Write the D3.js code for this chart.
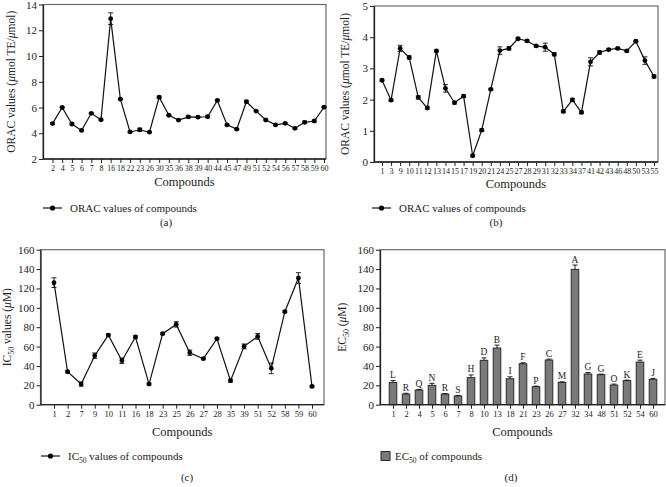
<!DOCTYPE html>
<html><head><meta charset="utf-8">
<script src="https://cdn.jsdelivr.net/npm/d3@7"></script>
<style>
body{margin:0;background:#fff;}
svg{display:block;font-family:"Liberation Serif","DejaVu Serif",serif;}
</style></head><body>
<svg id="c" width="666" height="487"></svg>
<script>
// ---- data ----
const catsA = ["2","4","5","6","7","8","16","18","22","23","26","30","35","36","38","39","40","44","45","47","49","51","52","54","56","57","58","59","60"];
const valsA = [4.75,6.0,4.72,4.22,5.55,5.05,12.9,6.65,4.1,4.27,4.08,6.8,5.4,5.02,5.27,5.25,5.28,6.55,4.65,4.32,6.45,5.72,5.03,4.65,4.77,4.38,4.85,4.95,6.02];
const errA  = [0.05,0.05,0.08,0.05,0.05,0.05,0.45,0.05,0.05,0.12,0.05,0.08,0.05,0.05,0.08,0.05,0.08,0.06,0.05,0.05,0.1,0.05,0.05,0.05,0.05,0.05,0.1,0.08,0.05];
const ticksA = [2,4,6,8,10,12,14];

const catsB = ["1","3","9","10","11","12","13","14","15","17","19","20","21","24","25","27","28","29","31","32","33","34","37","41","42","43","46","48","50","53","55"];
const valsB = [2.62,1.98,3.64,3.35,2.07,1.73,3.56,2.36,1.9,2.11,0.2,1.02,2.33,3.57,3.64,3.95,3.88,3.72,3.68,3.45,1.62,1.99,1.59,3.21,3.51,3.6,3.64,3.56,3.87,3.25,2.74];
const errB  = [0.03,0.03,0.1,0.05,0.05,0.04,0.03,0.12,0.04,0.04,0.03,0.04,0.03,0.12,0.05,0.03,0.03,0.03,0.13,0.05,0.04,0.05,0.04,0.13,0.05,0.03,0.03,0.03,0.03,0.12,0.05];
const ticksB = [0,1,2,3,4,5];

const catsC = ["1","2","7","9","10","11","16","18","23","25","26","27","28","35","39","51","52","58","59","60"];
const valsC = [126,34,21.3,50.6,71.9,45.4,69.9,21.3,73.3,82.9,53.7,47.5,68.1,24.8,60.2,70.5,37.5,96,130.8,18.9];
const errC  = [5,1,2.2,2.8,1,2.8,1.2,1,1,2.8,2.8,1,1.2,1.5,2.5,3,5.5,1,5.5,1];
const ticksC = [0,20,40,60,80,100,120,140,160];

const catsD = ["1","2","4","5","6","7","8","10","13","18","21","23","26","27","32","34","48","51","52","54","60"];
const valsD = [23,11,15.1,20,11,9,27.9,45.8,58.5,26.8,42.3,18.6,46.1,23,139.7,31.7,31,20.3,24.8,44,26.2];
const errD  = [2,0.8,0.6,2,0.5,0.6,2.8,2.5,3,2,1,0.6,1,0.6,4.5,1.5,0.6,1,0.6,2,1];
const lettersD = ["L","R","Q","N","R","S","H","D","B","I","F","P","C","M","A","G","G","O","K","E","J"];
const ticksD = [0,20,40,60,80,100,120,140,160];

const svg = d3.select("#c");
const mu = "\u03BC";

function frame(g, L, R, T, B) {
  g.append("rect").attr("x", L).attr("y", T).attr("width", R - L).attr("height", B - T)
    .attr("fill", "none").attr("stroke", "#6a6a6a").attr("stroke-width", 1.2);
}

function yAxis(L, y, ticks, fs) {
  const ax = svg.append("g").attr("transform", `translate(${L},0)`)
    .call(d3.axisLeft(y).tickValues(ticks).tickFormat(d3.format("d")).tickSize(4).tickPadding(2).tickSizeOuter(0));
  ax.select(".domain").attr("stroke", "#222").attr("stroke-width", 1.3);
  ax.selectAll(".tick line").attr("stroke", "#222").attr("stroke-width", 1);
  ax.selectAll("text").attr("font-family", "Liberation Serif").attr("font-size", fs).attr("fill", "#222");
  return ax;
}
function xAxis(B, x, fs) {
  const ax = svg.append("g").attr("transform", `translate(0,${B})`)
    .call(d3.axisBottom(x).tickSize(4).tickPadding(2).tickSizeOuter(0));
  ax.select(".domain").remove();
  ax.selectAll(".tick line").attr("stroke", "#222").attr("stroke-width", 1);
  ax.selectAll("text").attr("font-family", "Liberation Serif").attr("font-size", fs).attr("fill", "#222");
  return ax;
}
function hline(L, R, B) {
  svg.append("line").attr("x1", L).attr("x2", R).attr("y1", B).attr("y2", B)
    .attr("stroke", "#222").attr("stroke-width", 1.3);
}

function linePanel(o) {
  const g = svg.append("g");
  frame(g, o.L, o.R, o.T, o.B);
  const x = d3.scalePoint().domain(o.cats).range([o.x0, o.x1]);
  const y = d3.scaleLinear().domain([o.ticks[0], o.ticks[o.ticks.length - 1]]).range([o.B, o.T]);
  yAxis(o.L, y, o.ticks, o.yfs);
  hline(o.L, o.R, o.B);
  xAxis(o.B, x, o.xfs);
  const data = o.cats.map((c, i) => ({c, v: o.vals[i], e: o.err[i]}));
  const eb = svg.append("g").attr("stroke", "#111").attr("stroke-width", 0.9);
  data.forEach(d => {
    const xx = x(d.c);
    eb.append("line").attr("x1", xx).attr("x2", xx).attr("y1", y(d.v - d.e)).attr("y2", y(d.v + d.e));
    eb.append("line").attr("x1", xx - 2.5).attr("x2", xx + 2.5).attr("y1", y(d.v + d.e)).attr("y2", y(d.v + d.e));
    eb.append("line").attr("x1", xx - 2.5).attr("x2", xx + 2.5).attr("y1", y(d.v - d.e)).attr("y2", y(d.v - d.e));
  });
  svg.append("path").datum(data)
    .attr("d", d3.line().x(d => x(d.c)).y(d => y(d.v)))
    .attr("fill", "none").attr("stroke", "#111").attr("stroke-width", 1.2);
  svg.append("g").selectAll("circle").data(data).join("circle")
    .attr("cx", d => x(d.c)).attr("cy", d => y(d.v)).attr("r", 2.4).attr("fill", "#000");
  svg.append("text").attr("x", (o.L + o.R) / 2).attr("y", o.xtY).attr("text-anchor", "middle")
    .attr("font-size", 12.5).attr("fill", "#222").text("Compounds");
  const yt = svg.append("text").attr("transform", `translate(${o.ytX},${(o.T + o.B) / 2}) rotate(-90)`)
    .attr("text-anchor", "middle").attr("font-size", 11.5).attr("fill", "#222");
  o.ytitle(yt);
  svg.append("line").attr("x1", o.lgX).attr("x2", o.lgX + 19).attr("y1", o.lgY).attr("y2", o.lgY)
    .attr("stroke", "#111").attr("stroke-width", 1.2);
  svg.append("circle").attr("cx", o.lgX + 9.5).attr("cy", o.lgY).attr("r", 2.6).attr("fill", "#000");
  const lt = svg.append("text").attr("x", o.lgX + 27).attr("y", o.lgY + 3.5).attr("font-size", 11).attr("fill", "#222");
  o.legend(lt);
  svg.append("text").attr("x", o.pX).attr("y", o.pY).attr("text-anchor", "middle")
    .attr("font-size", 11).attr("fill", "#222").text(o.plabel);
}

function oracTitle(t) {
  t.append("tspan").text("ORAC values (");
  t.append("tspan").attr("font-style", "italic").text(mu);
  t.append("tspan").text("mol TE/");
  t.append("tspan").attr("font-style", "italic").text(mu);
  t.append("tspan").text("mol)");
}

linePanel({L: 43, R: 326, T: 4.5, B: 159, x0: 52.5, x1: 324, cats: catsA, vals: valsA, err: errA, ticks: ticksA,
  yfs: 11, xfs: 8, xtY: 186, ytX: 15, ytitle: oracTitle,
  lgX: 43, lgY: 208, legend: t => t.text("ORAC values of compounds"), pX: 166, pY: 226, plabel: "(a)"});

linePanel({L: 374, R: 658, T: 6, B: 162, x0: 382, x1: 654, cats: catsB, vals: valsB, err: errB, ticks: ticksB,
  yfs: 11, xfs: 8, xtY: 188, ytX: 349, ytitle: oracTitle,
  lgX: 372, lgY: 208, legend: t => t.text("ORAC values of compounds"), pX: 496, pY: 226, plabel: "(b)"});

linePanel({L: 40.5, R: 324, T: 249.7, B: 404.7, x0: 54, x1: 312, cats: catsC, vals: valsC, err: errC, ticks: ticksC,
  yfs: 11, xfs: 8.5, xtY: 436, ytX: 11, ytitle: t => {
    t.append("tspan").text("IC");
    t.append("tspan").attr("font-size", 8).attr("dy", 3).text("50");
    t.append("tspan").attr("dy", -3).text(" values (");
    t.append("tspan").attr("font-style", "italic").text(mu);
    t.append("tspan").text("M)");
  },
  lgX: 41, lgY: 456, legend: t => {
    t.append("tspan").text("IC");
    t.append("tspan").attr("font-size", 7.5).attr("dy", 3).text("50");
    t.append("tspan").attr("dy", -3).text(" values of compounds");
  }, pX: 187, pY: 481, plabel: "(c)"});

// ---- panel d (bars) ----
(function () {
  const L = 380, R = 665, T = 249.7, B = 404.7;
  const g = svg.append("g");
  frame(g, L, R, T, B);
  const x = d3.scaleBand().domain(catsD).range([386.5, 659.5]).paddingInner(0.42).paddingOuter(0.21);
  const y = d3.scaleLinear().domain([0, 160]).range([B, T]);
  yAxis(L, y, ticksD, 11);
  const data = catsD.map((c, i) => ({c, v: valsD[i], e: errD[i], l: lettersD[i]}));
  svg.append("g").selectAll("rect").data(data).join("rect")
    .attr("x", d => x(d.c)).attr("width", x.bandwidth())
    .attr("y", d => y(d.v)).attr("height", d => B - y(d.v))
    .attr("fill", "#7a7a7a").attr("stroke", "#2a2a2a").attr("stroke-width", 1);
  const eb = svg.append("g").attr("stroke", "#111").attr("stroke-width", 0.9);
  data.forEach(d => {
    const xx = x(d.c) + x.bandwidth() / 2;
    eb.append("line").attr("x1", xx).attr("x2", xx).attr("y1", y(d.v)).attr("y2", y(d.v + d.e));
    eb.append("line").attr("x1", xx - 2.5).attr("x2", xx + 2.5).attr("y1", y(d.v + d.e)).attr("y2", y(d.v + d.e));
  });
  svg.append("g").selectAll("text").data(data).join("text")
    .attr("x", d => x(d.c) + x.bandwidth() / 2).attr("y", d => y(d.v + d.e) - 2.5)
    .attr("text-anchor", "middle").attr("font-size", 9.5).attr("fill", "#222").text(d => d.l);
  hline(L, R, B);
  const xp = d3.scalePoint().domain(catsD).range([x(catsD[0]) + x.bandwidth() / 2, x(catsD[catsD.length - 1]) + x.bandwidth() / 2]);
  xAxis(B, xp, 8.5);
  svg.append("text").attr("x", (L + R) / 2).attr("y", 436).attr("text-anchor", "middle")
    .attr("font-size", 12.5).attr("fill", "#222").text("Compounds");
  const yt = svg.append("text").attr("transform", `translate(${346},${(T + B) / 2}) rotate(-90)`)
    .attr("text-anchor", "middle").attr("font-size", 11.5).attr("fill", "#222");
  yt.append("tspan").text("EC");
  yt.append("tspan").attr("font-size", 8).attr("dy", 3).text("50");
  yt.append("tspan").attr("dy", -3).text(" (");
  yt.append("tspan").attr("font-style", "italic").text(mu);
  yt.append("tspan").text("M)");
  svg.append("rect").attr("x", 381).attr("y", 451.5).attr("width", 9).attr("height", 9)
    .attr("fill", "#7a7a7a").attr("stroke", "#2a2a2a").attr("stroke-width", 1);
  const lt = svg.append("text").attr("x", 395).attr("y", 460).attr("font-size", 11).attr("fill", "#222");
  lt.append("tspan").text("EC");
  lt.append("tspan").attr("font-size", 7.5).attr("dy", 3).text("50");
  lt.append("tspan").attr("dy", -3).text(" of compounds");
  svg.append("text").attr("x", 511).attr("y", 481).attr("text-anchor", "middle")
    .attr("font-size", 11).attr("fill", "#222").text("(d)");
})();
</script>
</body></html>
